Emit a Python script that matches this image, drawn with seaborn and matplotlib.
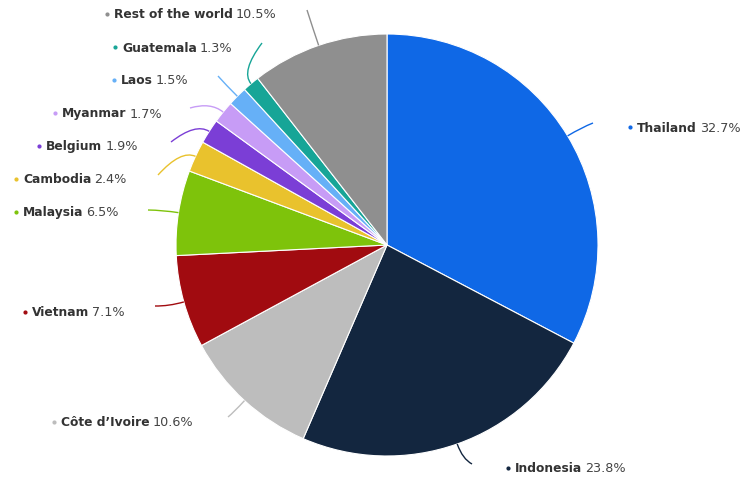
import matplotlib
matplotlib.use("Agg")
import matplotlib.pyplot as plt
import seaborn as sns
import numpy as np
from matplotlib.path import Path
from matplotlib.patches import PathPatch

# data
countries = ["Thailand", "Indonesia", "Côte d’Ivoire", "Vietnam", "Malaysia",
             "Cambodia", "Belgium", "Myanmar", "Laos", "Guatemala", "Rest of the world"]
shares = [32.7, 23.8, 10.6, 7.1, 6.5, 2.4, 1.9, 1.7, 1.5, 1.3, 10.5]
colors = ["#0f68e6", "#13263f", "#bdbdbd", "#a10b10", "#7ec30b", "#e9c22d",
          "#7b3ed6", "#c79cf6", "#66b0f7", "#17a597", "#8f8f8f"]

# label layout in pixels (bullet x, text y) and connector end point
label_pos = [(628, 128), (506, 469), (52, 423), (23, 313), (14, 213),
             (14, 180), (37, 147), (53, 114), (112, 81), (113, 48), (105, 15)]
conn_end = [(593, 124), (472, 465), (228, 418), (155, 307), (148, 211),
            (158, 176), (171, 143), (190, 109), (218, 77), (262, 44), (307, 11)]

sns.set_theme(style="white")
plt.rcParams["font.family"] = ["DejaVu Sans"]

fig = plt.figure(figsize=(7.43, 4.81), dpi=100)
ax = fig.add_axes([0, 0, 1, 1])

cx, cy, r = 387, 246, 211
wedges, _ = ax.pie(shares, colors=colors, startangle=-90, counterclock=True,
                   center=(cx, cy), radius=r,
                   wedgeprops=dict(edgecolor="white", linewidth=0.8))
ax.set_xlim(0, 743)
ax.set_ylim(481, 0)
ax.set_aspect("equal")
ax.axis("off")

fig.canvas.draw()
renderer = fig.canvas.get_renderer()

for w, name, pct, col, (bx, by), (ex, ey) in zip(wedges, countries, shares, colors,
                                                  label_pos, conn_end):
    mid = np.deg2rad((w.theta1 + w.theta2) / 2)
    sx, sy = cx + r * np.cos(mid), cy + r * np.sin(mid)
    qx, qy = cx + (r + 16) * np.cos(mid), cy + (r + 16) * np.sin(mid)
    path = Path([(sx, sy), (qx, qy), (ex, ey)], [Path.MOVETO, Path.CURVE3, Path.CURVE3])
    ax.add_patch(PathPatch(path, fill=False, edgecolor=col, linewidth=1))

    ax.plot(bx + 2, by, marker="o", markersize=2, color=col)
    t = ax.text(bx + 9, by, name, fontsize=8.8, fontweight="bold", color="#333333",
                va="center", ha="left")
    bb = t.get_window_extent(renderer)
    ax.text(bx + 9 + bb.width + 3, by, f"{pct}%", fontsize=9.2, color="#444444",
            va="center", ha="left")

fig.savefig("out.png", dpi=100)
